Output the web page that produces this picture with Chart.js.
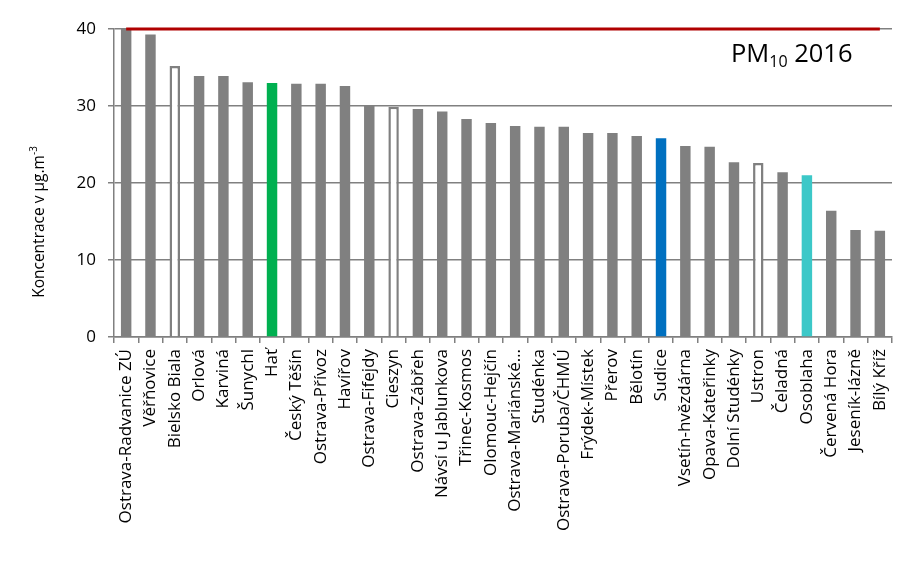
<!DOCTYPE html>
<html>
<head>
<meta charset="utf-8">
<script src="https://cdn.jsdelivr.net/npm/chart.js@4"></script>
<style>
  body { margin: 0; background: #fff; }
  #wrap { width: 899px; height: 569px; }
</style>
</head>
<body>
<div id="wrap"><canvas id="pm10" width="899" height="569"></canvas></div>
<script>
// stanice a roční průměry PM10 (µg/m3)
const stations = [
    'Ostrava-Radvanice ZÚ', 'Věřňovice', 'Bielsko Biala', 'Orlová', 'Karviná', 'Šunychl',
    'Hať', 'Český Těšín', 'Ostrava-Přívoz', 'Havířov', 'Ostrava-Fifejdy', 'Cieszyn',
    'Ostrava-Zábřeh', 'Návsí u Jablunkova', 'Třinec-Kosmos', 'Olomouc-Hejčín',
    'Ostrava-Mariánské…', 'Studénka', 'Ostrava-Poruba/ČHMÚ', 'Frýdek-Místek', 'Přerov',
    'Bělotín', 'Sudice', 'Vsetín-hvězdárna', 'Opava-Kateřinky', 'Dolní Studénky', 'Ustron',
    'Čeladná', 'Osoblaha', 'Červená Hora', 'Jeseník-lázně', 'Bílý Kříž'
];
const pm10 = [
    40.0, 39.3, 35.2, 33.9, 33.9, 33.1,
    33.0, 32.9, 32.9, 32.6, 30.0, 29.9,
    29.6, 29.3, 28.3, 27.8,
    27.4, 27.3, 27.3, 26.5, 26.5,
    26.1, 25.8, 24.8, 24.7, 22.7, 22.6,
    21.4, 21.0, 16.4, 13.9, 13.8
];
const limitValue = 40;          // imisní limit
const yTicks = [0, 10, 20, 30, 40];

// zvýrazněné stanice
const hollowStations = ['Bielsko Biala', 'Cieszyn', 'Ustron'];
const highlight = { 'Hať': '#00B050', 'Sudice': '#0070C0', 'Osoblaha': '#3CC8C8' };

const GREY = '#808080';
const FONT = "'Open Sans', sans-serif";

const fillColors = stations.map(s => hollowStations.includes(s) ? '#ffffff' : (highlight[s] || GREY));
const borderWidths = stations.map(s => hollowStations.includes(s) ? 2.5 : 0);

// nadpis a popis osy Y (s dolním/horním indexem)
const textPlugin = {
    id: 'texts',
    afterDraw(chart) {
        const ctx = chart.ctx;
        ctx.save();
        ctx.fillStyle = '#000';
        ctx.textBaseline = 'alphabetic';
        ctx.textAlign = 'left';

        let x = 731;
        const y = 62;
        ctx.font = `25.5px ${FONT}`;
        ctx.fillText('PM', x, y);
        x += ctx.measureText('PM').width;
        ctx.font = `16px ${FONT}`;
        ctx.fillText('10', x, y + 5);
        x += ctx.measureText('10').width;
        ctx.font = `25.5px ${FONT}`;
        ctx.fillText(' 2016', x, y);

        // osa Y
        ctx.translate(44, 222);
        ctx.rotate(-Math.PI / 2);
        const main = 'Koncentrace v µg.m';
        ctx.font = `15.5px ${FONT}`;
        const w1 = ctx.measureText(main).width;
        ctx.font = `10px ${FONT}`;
        const w2 = ctx.measureText('-3').width;
        const sx = -(w1 + w2) / 2;
        ctx.font = `15.5px ${FONT}`;
        ctx.fillText(main, sx, 0);
        ctx.font = `10px ${FONT}`;
        ctx.fillText('-3', sx + w1, -7);
        ctx.restore();
    }
};

new Chart(document.getElementById('pm10'), {
    type: 'bar',
    data: {
        labels: stations,
        datasets: [
            {
                type: 'line',
                data: stations.map(() => limitValue),
                borderColor: '#B00000',
                borderWidth: 3,
                pointRadius: 0,
                clip: false,
                order: 0
            },
            {
                data: pm10,
                backgroundColor: fillColors,
                borderColor: GREY,
                borderWidth: borderWidths,
                barPercentage: 0.43,
                categoryPercentage: 1,
                order: 1
            }
        ]
    },
    options: {
        responsive: false,
        animation: false,
        layout: { padding: { top: 29, right: 7, left: 0, bottom: 0 } },
        plugins: {
            legend: { display: false },
            tooltip: { enabled: false }
        },
        scales: {
            x: {
                afterFit: s => {
                    s.height = 232;
                    s.paddingLeft = 0;
                    s.paddingRight = 0;
                },
                grid: {
                    drawOnChartArea: false,
                    color: GREY,
                    lineWidth: 1.5,
                    tickLength: 6
                },
                border: { color: GREY, width: 1.5 },
                ticks: {
                    autoSkip: false,
                    maxRotation: 90,
                    minRotation: 90,
                    padding: 6,
                    color: '#000',
                    font: { family: FONT, size: 17 }
                }
            },
            y: {
                min: 0,
                max: 40,
                afterFit: s => {
                    s.width = 114;
                    s.paddingTop = 0;
                    s.paddingBottom = 0;
                },
                afterBuildTicks: s => { s.ticks = yTicks.map(v => ({ value: v })); },
                grid: {
                    color: GREY,
                    lineWidth: 1.5,
                    tickLength: 6
                },
                border: { color: GREY, width: 1.5 },
                ticks: {
                    padding: 12,
                    color: '#000',
                    font: { family: FONT, size: 17 }
                }
            }
        }
    },
    plugins: [textPlugin]
});
</script>
</body>
</html>
